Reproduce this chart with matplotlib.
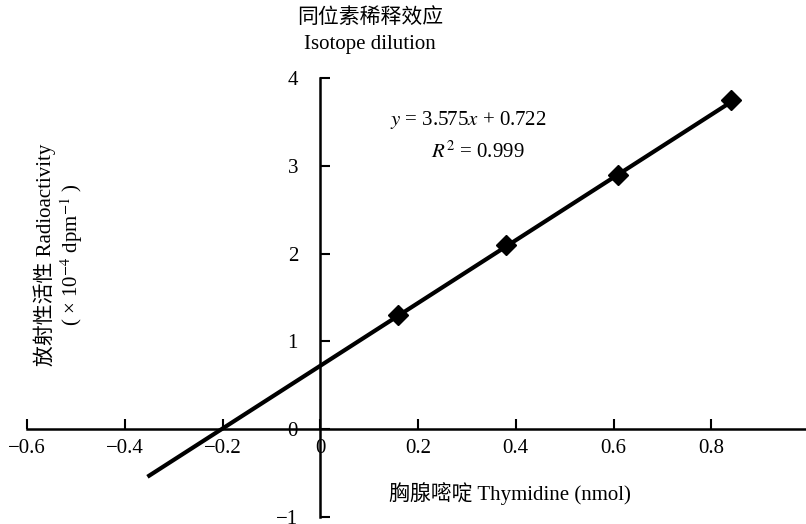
import matplotlib
matplotlib.use("Agg")
import matplotlib.pyplot as plt
import numpy as np

# thymidine added (nmol) vs radioactivity (x 10^-4 dpm)
thymidine = [0.16, 0.38, 0.61, 0.84]
radioactivity = [1.30, 2.10, 2.89, 3.75]
slope, intercept, r2 = 3.575, 0.722, 0.999
trend_x = [-0.35, 0.84]

x_ticks = [-0.6, -0.4, -0.2, 0, 0.2, 0.4, 0.6, 0.8, 1.0]
x_labels = ["\u22120.6", "\u22120.4", "\u22120.2", "0", "0.2", "0.4", "0.6", "0.8", "1"]
y_ticks = [-1, 0, 1, 2, 3, 4]
y_labels = ["\u22121", "0", "1", "2", "3", "4"]

FAM = ["Liberation Serif", "Noto Sans CJK SC", "DejaVu Sans"]
plt.rcParams["font.family"] = FAM
plt.rcParams["mathtext.fontset"] = "stix"

fig = plt.figure(figsize=(8.06, 5.24), dpi=100)
ax = fig.add_axes([27 / 806, 7 / 524, 782 / 806, 439 / 524])
ax.set_xlim(-0.6, 1.0)
ax.set_ylim(-1, 4)

# spines through the origin
for s in ("top", "right"):
    ax.spines[s].set_visible(False)
ax.spines["left"].set_position(("data", 0))
ax.spines["bottom"].set_position(("data", 0))
for s in ("left", "bottom"):
    ax.spines[s].set_linewidth(1.8)

ax.set_xticks(x_ticks, x_labels)
ax.set_yticks(y_ticks, y_labels)
ax.tick_params(axis="x", direction="in", length=7, width=1.5, pad=7, labelsize=15)
ax.tick_params(axis="y", direction="in", length=7, width=1.5, pad=16, labelsize=15)

tx = np.array(trend_x)
ax.plot(tx, slope * tx + intercept, color="black", lw=3, zorder=2)
ax.plot(thymidine, radioactivity, linestyle="none", marker="D", ms=10,
        color="black", zorder=3)

ax.text(0.303, 3.52, f"$y$ = {slope}$x$ + {intercept}", ha="center", va="center",
        fontsize=15)
ax.text(0.323, 3.16, f"$R^2$ = {r2}", ha="center", va="center", fontsize=15)

fig.text(370 / 806, 1 - 18 / 524, "同位素稀释效应", ha="center", va="center", fontsize=15)
fig.text(370 / 806, 1 - 45 / 524, "Isotope dilution", ha="center", va="center", fontsize=15)
fig.text(510 / 806, 1 - 494 / 524, "胸腺嘧啶 Thymidine (nmol)", ha="center", va="center",
         fontsize=15)
fig.text(45 / 806, 1 - 255 / 524, "放射性活性 Radioactivity", ha="center", va="center",
         rotation=90, fontsize=15)
fig.text(72 / 806, 1 - 255 / 524, "( × 10$^{-4}$ dpm$^{-1}$ )", ha="center", va="center",
         rotation=90, fontsize=15)

fig.savefig("out.png", dpi=100)
